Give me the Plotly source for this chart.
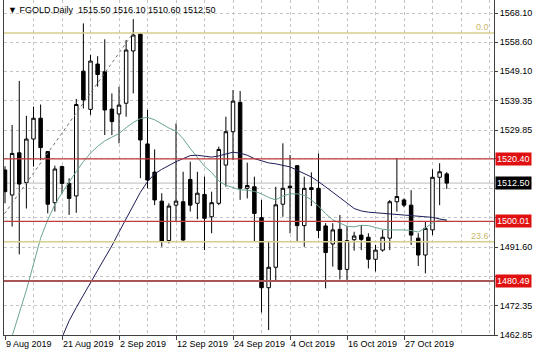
import pandas as pd
import plotly.graph_objects as go

# ---------------- data ----------------
# trading days (weekdays plus the Sunday bar of 27 Oct 2019)
days = list(pd.bdate_range("2019-08-09", "2019-10-25")) + [pd.Timestamp("2019-10-27")] + \
       list(pd.bdate_range("2019-10-28", "2019-11-04"))
days = days[:63]

opens = [1516.8, 1508.6, 1522.4, 1512.7, 1526.9, 1533.7, 1522.8, 1506.1, 1517.9, 1512.4,
         1508.3, 1549.1, 1536.6, 1551.4, 1548.9, 1536.7, 1535.1, 1538.6, 1555.7, 1561.2,
         1525.3, 1516.1, 1506.6, 1493.7, 1505.3, 1506.4, 1513.7, 1505.9, 1508.8, 1501.5,
         1505.9, 1518.4, 1529.3, 1538.9, 1510.8, 1511.3, 1501.2, 1478.3, 1485.0, 1505.6,
         1511.5, 1518.2, 1498.6, 1511.0, 1510.8, 1498.5, 1492.6, 1497.4, 1484.3, 1494.0,
         1495.5, 1494.8, 1487.6, 1490.6, 1494.5, 1506.4, 1507.0, 1505.3, 1494.5, 1489.0,
         1497.2, 1514.4, 1515.5]
highs = [1518.0, 1531.5, 1545.9, 1534.5, 1537.5, 1538.2, 1523.0, 1518.2, 1518.2, 1514.1,
         1540.0, 1564.7, 1554.4, 1554.0, 1559.5, 1541.8, 1544.0, 1559.3, 1566.1, 1561.5,
         1536.4, 1523.5, 1509.2, 1505.9, 1532.0, 1516.2, 1519.5, 1516.2, 1514.6, 1509.7,
         1524.4, 1534.2, 1542.9, 1542.6, 1519.2, 1514.6, 1507.0, 1493.4, 1511.3, 1525.5,
         1521.7, 1518.4, 1514.6, 1516.0, 1522.2, 1499.4, 1499.4, 1502.1, 1498.5, 1496.6,
         1498.8, 1496.1, 1492.3, 1497.2, 1507.0, 1520.6, 1507.5, 1510.2, 1496.1, 1499.9,
         1517.0, 1519.0, 1516.1]
lows = [1505.9, 1498.3, 1489.2, 1504.2, 1517.9, 1520.0, 1502.6, 1503.2, 1509.2, 1502.1,
        1502.8, 1536.9, 1534.8, 1544.0, 1528.2, 1528.2, 1525.5, 1534.2, 1541.8, 1514.1,
        1510.8, 1505.3, 1491.7, 1492.8, 1500.0, 1493.4, 1503.2, 1500.7, 1490.6, 1496.1,
        1505.3, 1511.3, 1520.0, 1507.0, 1507.5, 1493.4, 1470.2, 1464.5, 1480.3, 1501.5,
        1496.1, 1493.4, 1491.7, 1505.0, 1494.5, 1478.1, 1485.2, 1481.0, 1480.3, 1490.4,
        1490.6, 1484.6, 1483.6, 1490.1, 1490.6, 1503.2, 1504.6, 1492.3, 1485.4, 1483.0,
        1495.5, 1505.3, 1510.6]
closes = [1509.7, 1522.2, 1512.2, 1526.9, 1533.7, 1524.1, 1505.6, 1517.1, 1512.4, 1507.5,
          1538.2, 1539.7, 1552.4, 1548.0, 1536.4, 1532.6, 1538.0, 1556.0, 1560.9, 1526.6,
          1513.5, 1507.0, 1493.4, 1505.0, 1506.6, 1493.9, 1505.3, 1509.2, 1501.0, 1506.1,
          1523.5, 1529.3, 1539.3, 1510.8, 1511.7, 1502.6, 1478.3, 1485.0, 1505.4, 1510.8,
          1511.0, 1498.6, 1510.8, 1510.4, 1497.0, 1489.8, 1497.2, 1484.3, 1493.7, 1495.2,
          1494.1, 1487.6, 1490.6, 1494.8, 1506.4, 1508.1, 1505.3, 1495.5, 1489.0, 1497.7,
          1514.4, 1516.2, 1512.5]

# moving averages (None where not drawn)
ma_fast = [None, 1462.5, 1470.0, 1477.5, 1486.0, 1494.5, 1500.5, 1505.5, 1509.3, 1513.0,
           1516.3, 1519.5, 1522.3, 1524.5, 1526.3, 1527.5, 1528.7, 1530.6, 1532.3, 1533.6,
           1534.0, 1533.2, 1531.8, 1530.5, 1529.5, 1527.0, 1523.8, 1521.0, 1518.0, 1516.0,
           1513.2, 1511.8, 1511.0, 1510.3, 1510.2, 1509.8, 1509.0, 1507.8, 1507.0, 1508.3,
           1509.0, 1509.0, 1508.5, 1507.0, 1505.0, 1502.5, 1500.5, 1499.4, 1498.4, 1498.2,
           1498.7, 1498.6, 1497.9, 1497.4, 1497.2, 1497.3, 1497.2, 1497.0, 1496.5, 1497.8,
           1499.5, 1500.4, 1500.6]
ma_slow = [None] * 8 + [1462.0, 1467.5, 1471.8, 1476.0, 1480.0, 1484.0, 1488.0, 1492.0,
           1496.5, 1501.0, 1505.3, 1509.5, 1513.0, 1515.5, 1517.0, 1518.3, 1519.5, 1520.5,
           1521.5, 1521.6, 1521.3, 1521.0, 1521.4, 1522.0, 1522.6, 1522.3, 1521.6, 1520.5,
           1519.8, 1519.1, 1518.8, 1518.3, 1517.8, 1516.7, 1515.6, 1514.5, 1513.0, 1511.3,
           1509.7, 1508.0, 1506.0, 1504.2, 1503.4, 1503.0, 1502.8, 1502.6, 1502.4, 1502.3,
           1502.1, 1502.0, 1501.7, 1501.5, 1501.3, 1500.8, 1500.3]

date_labels = ["9 Aug 2019", "21 Aug 2019", "2 Sep 2019", "12 Sep 2019",
               "24 Sep 2019", "4 Oct 2019", "16 Oct 2019", "27 Oct 2019"]
price_ticks = [1568.10, 1558.60, 1549.10, 1539.35, 1529.85, 1520.40,
               1510.85, 1501.20, 1491.60, 1481.85, 1472.35, 1462.85]

red_levels = [1520.40, 1500.01]
support_level = 1480.49
bid_price = 1512.50
fib_levels = [1561.56, 1493.35]
fib_names = ["0.0", "23.6"]
fib_trend_x = [-3, 18]
fib_trend_y = [1492.9, 1561.56]

symbol = "FGOLD.Daily"
last_ohlc = [1515.50, 1516.10, 1510.60, 1512.50]

# ---------------- figure ----------------
idx = list(range(len(days)))
fmt = [f"{d.day} {d.strftime('%b %Y')}" for d in days]
tick_idx = [fmt.index(lbl) for lbl in date_labels]

FONT = "Liberation Sans"
GRID = "#c4c4c4"

label_levels = red_levels + [support_level, bid_price]
# tick labels that sit under a coloured price box are hidden by that box
tick_text = []
for v in price_ticks:
    covered = any(abs(v - lv) < 2.6 for lv in label_levels)
    tick_text.append("" if covered else f"{v:.2f}")

fig = go.Figure()

fig.add_trace(go.Scatter(x=idx, y=ma_fast, mode="lines",
                         line=dict(color="#6aa596", width=1), hoverinfo="skip"))
fig.add_trace(go.Scatter(x=idx, y=ma_slow, mode="lines",
                         line=dict(color="#1e1e5a", width=1), hoverinfo="skip"))

fig.add_trace(go.Candlestick(
    x=idx, open=opens, high=highs, low=lows, close=closes,
    increasing=dict(fillcolor="white", line=dict(color="black", width=1)),
    decreasing=dict(fillcolor="black", line=dict(color="black", width=1)),
    whiskerwidth=0,
))

# horizontal levels (chart objects drawn in the foreground)
for lv in fib_levels:
    fig.add_hline(y=lv, line=dict(color="#d8cf8c", width=1.5), layer="above")
fig.add_hline(y=bid_price, line=dict(color="#bdbdbd", width=1), layer="below")
for lv in red_levels:
    fig.add_hline(y=lv, line=dict(color="#c23a3a", width=1.2), layer="above")
fig.add_hline(y=support_level, line=dict(color="#a85656", width=2), layer="above")

# fib trend line
fig.add_trace(go.Scatter(x=fib_trend_x, y=fib_trend_y, mode="lines",
                         line=dict(color="#707070", width=1, dash="3px,3px"),
                         hoverinfo="skip"))

# fib labels
for lv, nm in zip(fib_levels, fib_names):
    fig.add_annotation(x=1, xref="paper", y=lv, yref="y", text=nm, showarrow=False,
                       xanchor="right", yanchor="bottom", xshift=-3, yshift=-1,
                       font=dict(family=FONT, size=9, color="#c8b86a"))

# price labels on the right axis
for lv, bg in [(red_levels[0], "#e01010"), (bid_price, "#000000"),
               (red_levels[1], "#e01010"), (support_level, "#e01010")]:
    fig.add_annotation(x=1, xref="paper", y=lv, yref="y", text=f"{lv:.2f}",
                       showarrow=False, xanchor="left", yanchor="middle", xshift=1,
                       bgcolor=bg, borderpad=1,
                       font=dict(family=FONT, size=9, color="white"))

# header text
fig.add_annotation(x=0, xref="paper", y=1, yref="paper", xanchor="left", yanchor="top",
                   xshift=2, yshift=-3, showarrow=False,
                   text="▼ " + symbol + "  " + " ".join(f"{v:.2f}" for v in last_ohlc),
                   font=dict(family=FONT, size=9, color="black"))

fig.update_layout(
    width=536, height=358,
    margin=dict(l=4, r=42, t=0, b=23, autoexpand=False),
    paper_bgcolor="white", plot_bgcolor="white",
    showlegend=False,
    font=dict(family=FONT, size=9, color="black"),
    xaxis=dict(
        range=[-0.14, 68.63], rangeslider=dict(visible=False),
        tickmode="array", tickvals=tick_idx, ticktext=date_labels,
        tickangle=0, automargin=False,
        ticks="outside", ticklen=4, tickcolor="#404040",
        ticklabelposition="outside right",
        showgrid=True, gridcolor=GRID, griddash="3px,3px", gridwidth=1,
        minor=dict(tick0=0, dtick=4, showgrid=True, gridcolor=GRID,
                   griddash="3px,3px", gridwidth=1, ticks=""),
        showline=True, linecolor="#404040", linewidth=1,
        zeroline=False,
    ),
    yaxis=dict(
        side="right", range=[1462.85, 1572.35], automargin=False,
        tickmode="array", tickvals=price_ticks, ticktext=tick_text,
        ticks="outside", ticklen=3, tickcolor="#404040",
        showgrid=True, gridcolor=GRID, griddash="3px,3px", gridwidth=1,
        showline=True, mirror=True, linecolor="#404040", linewidth=1,
        zeroline=False,
    ),
)

fig.write_html("out.html")
